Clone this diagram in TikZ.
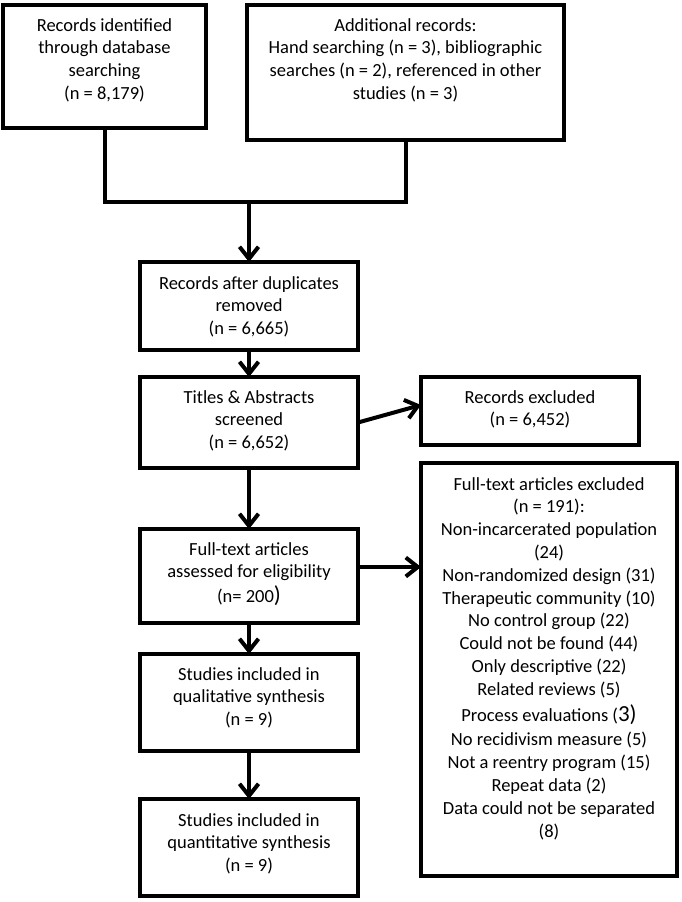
\documentclass[tikz,border=0pt]{standalone}
\usepackage{fontspec}
\setmainfont{Carlito}
\usetikzlibrary{arrows.meta,calc}
\begin{document}
\begin{tikzpicture}[x=1pt,y=-1pt,
  box/.style={draw, line width=4pt, inner sep=0pt, outer sep=0pt},
  txt/.style={align=center, inner sep=0pt, anchor=north, font=\fontsize{18.5}{22.8}\selectfont},
  link/.style={line width=4pt},
  arr/.style={line width=4pt, -{Straight Barb[length=12pt,width=19pt]}}]
\useasboundingbox (0,0) rectangle (682,902);
% boxes
\node[box, minimum width=203pt, minimum height=123pt] (b1) at (104.5,66.5) {};
\node[box, minimum width=317pt, minimum height=135pt] (b2) at (405.5,72.5) {};
\node[box, minimum width=218pt, minimum height=88pt] (b3) at (249,306) {};
\node[box, minimum width=218pt, minimum height=91pt] (b4) at (249,422.5) {};
\node[box, minimum width=218pt, minimum height=68pt] (re) at (530,411) {};
\node[box, minimum width=218pt, minimum height=94pt] (b5) at (249,576) {};
\node[box, minimum width=256pt, minimum height=413pt] (fe) at (549,669.5) {};
\node[box, minimum width=218pt, minimum height=97pt] (b6) at (249,702.5) {};
\node[box, minimum width=218pt, minimum height=97pt] (b7) at (249,847.5) {};
% texts
\node[txt] (t1) at ($(b1.north)+(0,10)$) {\strut Records identified\\through database\\searching\\(n = 8,179)};
\node[txt] (t2) at ($(b2.north)+(0,10)$) {\strut Additional records:\\Hand searching (n = 3), bibliographic\\searches (n = 2), referenced in other\\studies (n = 3)};
\node[txt] (t3) at ($(b3.north)+(0,11)$) {\strut Records after duplicates\\removed\\(n = 6,665)};
\node[txt] (t4) at ($(b4.north)+(0,10)$) {\strut Titles \& Abstracts\\screened\\(n = 6,652)};
\node[txt] (tre) at ($(re.north)+(0,10)$) {\strut Records excluded\\(n = 6,452)};
\node[txt] (t5) at ($(b5.north)+(0,10)$) {\strut Full-text articles\\assessed for eligibility\\[2pt](n= 200{\fontsize{23}{22.8}\selectfont )}};
\node[txt] (tfe) at ($(fe.north)+(0,11)$) {\strut Full-text articles excluded\\(n = 191):\\Non-incarcerated population\\(24)\\Non-randomized design (31)\\Therapeutic community (10)\\No control group (22)\\Could not be found (44)\\Only descriptive (22)\\Related reviews (5)\\[3pt]Process evaluations ({\fontsize{23}{22.8}\selectfont 3)}\\[2pt]No recidivism measure (5)\\Not a reentry program (15)\\Repeat data (2)\\Data could not be separated\\(8)};
\node[txt] (t6) at ($(b6.north)+(0,10)$) {\strut Studies included in\\qualitative synthesis\\(n = 9)};
\node[txt] (t7) at ($(b7.north)+(0,11)$) {\strut Studies included in\\quantitative synthesis\\(n = 9)};
% connectors
\coordinate (jl) at (104.5,202);
\coordinate (jr) at (405.5,202);
\coordinate (a4) at ($(re.west)+(0,-6)$);
\coordinate (a5) at ($(b5.east)+(0,-9)$);
\draw[link] (b1.south) -- (jl) -- (jr) -- (b2.south);
\draw[arr] (b3.north |- jl) -- (b3.north);
\draw[arr] (b3.south) -- (b4.north);
\draw[arr] (b4.east) -- (a4);
\draw[arr] (b4.south) -- (b5.north);
\draw[arr] (a5) -- (a5 -| fe.west);
\draw[arr] (b5.south) -- (b6.north);
\draw[arr] (b6.south) -- (b7.north);
\end{tikzpicture}
\end{document}
